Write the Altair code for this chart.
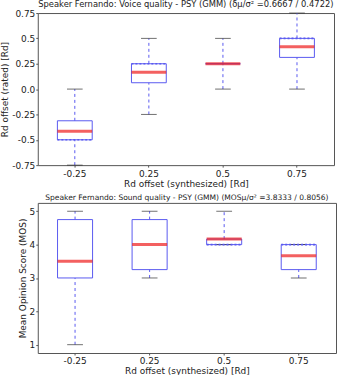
import altair as alt
import pandas as pd

# Offsets of the synthesized Rd values (box categories)
categories = ["-0.25", "0.25", "0.5", "0.75"]

# Voice quality (rated Rd offset) box statistics
vq_low = [-0.75, -0.25, 0.0, 0.0]
vq_q1 = [-0.5, 0.0625, 0.25, 0.3125]
vq_med = [-0.4167, 0.1667, 0.25, 0.4167]
vq_q3 = [-0.3125, 0.25, 0.25, 0.5]
vq_high = [0.0, 0.5, 0.5, 0.75]
vq_edge = [-0.5, 0.25, None, 0.5]

# Sound quality (MOS) box statistics
sq_low = [1.0, 3.0, 4.0, 3.0]
sq_q1 = [3.0, 3.25, 4.0, 3.25]
sq_med = [3.5, 4.0, 4.1667, 3.6667]
sq_q3 = [4.75, 4.75, 4.1667, 4.0]
sq_high = [5.0, 5.0, 5.0, 4.0]
sq_edge = [None, None, 4.0, 4.0]

BOX = "#5a5af0"
MED = "#ee1c1c"
CAP = "#333333"
FONT = "DejaVu Sans"


def panel(low, q1, med, q3, high, edge, title, title_size, ytitle, domain, yvals,
          ylabel_expr, w, h):
    df = pd.DataFrame({"cat": categories, "low": low, "q1": q1, "med": med,
                       "q3": q3, "high": high, "edge": edge})
    band = w / len(categories)
    box_w = band * 0.47
    x_axis = alt.Axis(labelAngle=0, labelPadding=2, titlePadding=1)
    x = alt.X("cat:N", sort=categories, title="Rd offset (synthesized) [Rd]",
              scale=alt.Scale(paddingInner=0, paddingOuter=0), axis=x_axis)
    y_scale = alt.Scale(domain=domain, nice=False, zero=False)
    y_axis = alt.Axis(values=yvals, tickCount=len(yvals), labelExpr=ylabel_expr,
                      labelOverlap=False, labelPadding=1, titlePadding=2)

    def yq(field):
        return alt.Y(field, type="quantitative", scale=y_scale, axis=y_axis, title=ytitle)

    base = alt.Chart(df)
    upper = base.mark_rule(color=BOX, strokeDash=[3, 3], strokeWidth=1).encode(
        x=x, y=yq("q3"), y2="high:Q")
    lower = base.mark_rule(color=BOX, strokeDash=[3, 3], strokeWidth=1).encode(
        x=x, y=yq("low"), y2="q1:Q")
    box = base.mark_bar(fill=None, stroke=BOX, strokeWidth=1,
                        width=alt.RelativeBandSize(0.47)).encode(
        x=x, y=yq("q1"), y2="q3:Q")
    cap_hi = base.mark_tick(color=CAP, thickness=1, size=box_w * 0.45).encode(
        x=x, y=yq("high"))
    cap_lo = base.mark_tick(color=CAP, thickness=1, size=box_w * 0.45).encode(
        x=x, y=yq("low"))
    dotted = base.transform_filter("isValid(datum.edge)").mark_rule(
        color=BOX, strokeDash=[2, 2], strokeWidth=1.6).encode(
        x=alt.X("cat:N", sort=categories, bandPosition=0.265),
        x2=alt.X2("cat", bandPosition=0.735), y=yq("edge"))
    median = base.mark_tick(color=MED, thickness=3, size=box_w).encode(
        x=x, y=yq("med"))
    return alt.layer(upper, lower, box, cap_hi, cap_lo, dotted, median).properties(
        width=w, height=h,
        title=alt.TitleParams(title, fontSize=title_size, font=FONT, fontWeight="normal",
                              color="#222", anchor="middle", offset=1))


top = panel(vq_low, vq_q1, vq_med, vq_q3, vq_high, vq_edge,
            "Speaker Fernando: Voice quality - PSY (GMM) (δμ/σ² =0.6667 / 0.4722)", 8.4,
            "Rd offset (rated) [Rd]", [-0.75, 0.75],
            [-0.75, -0.5, -0.25, 0, 0.25, 0.5, 0.75],
            "datum.value == 0 ? '0.0' : toString(datum.value)", 298, 153)

bottom = panel(sq_low, sq_q1, sq_med, sq_q3, sq_high, sq_edge,
               "Speaker Fernando: Sound quality - PSY (GMM) (MOSμ/σ² =3.8333 / 0.8056)", 7.6,
               "Mean Opinion Score (MOS)", [0.75, 5.25], [1, 2, 3, 4, 5],
               "toString(datum.value)", 300, 151)

chart = alt.vconcat(top, bottom, spacing=4).resolve_scale(
    y="independent", x="independent").configure(
    font=FONT, padding={"left": 0, "top": -2, "right": 0, "bottom": -3},
).configure_axis(
    labelFontSize=9, titleFontSize=9, titleFontWeight="normal",
    labelColor="#222", titleColor="#222", labelOverlap=False, labelFlush=False,
    tickSize=2, tickColor="#555", grid=False, domain=False,
).configure_view(stroke="#555", strokeWidth=1)

chart.save("out.html", embed_options={"renderer": "svg", "actions": False})
